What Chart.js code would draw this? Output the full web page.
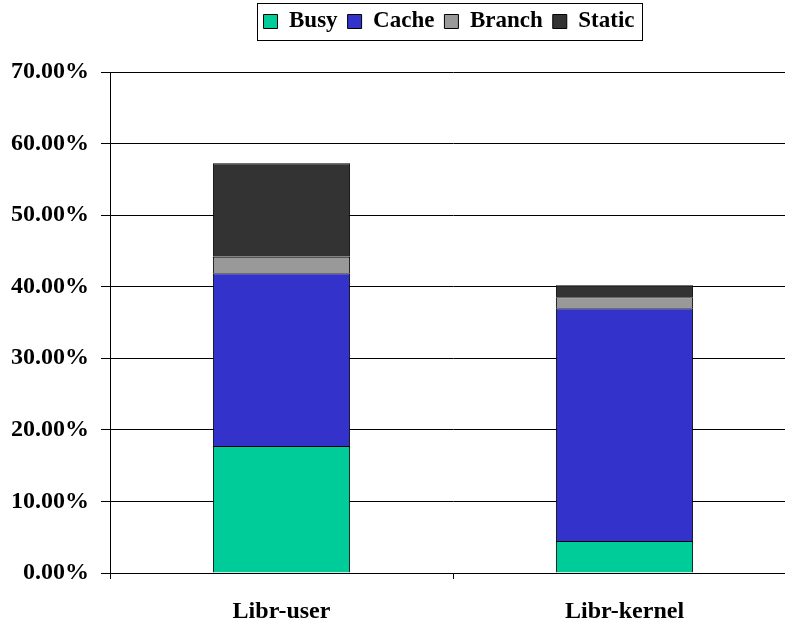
<!DOCTYPE html>
<html>
<head>
<meta charset="utf-8">
<script src="https://cdn.jsdelivr.net/npm/chart.js@4"></script>
<style>
  html, body { margin: 0; padding: 0; background: #fff; overflow: hidden; }
  #wrap { width: 796px; height: 624px; }
</style>
</head>
<body>
<div id="wrap"><canvas id="c"></canvas></div>
<script>
// ===== Data (percent) =====
const categories = ["Libr-user", "Libr-kernel"];
const busy   = [17.75, 4.47];
const cache  = [24.13, 32.51];
const branch = [2.31, 1.54];
const stat   = [13.05, 1.68];

const FONT = "'Liberation Serif', 'Times New Roman', serif";

// legend: extra gap below it, centred over the plot, with a box around it
const legendBox = {
  id: "legendBox",
  afterInit(chart) {
    const lg = chart.legend;
    if (!lg || lg._patched) return;
    const fit = lg.fit;
    lg.fit = function () { fit.call(this); this.height += 29; };
    lg._patched = true;
  },
  afterLayout(chart) {
    const lg = chart.legend;
    if (!lg) return;
    lg.left = chart.chartArea.left;
    lg.right = chart.chartArea.right - 8;
    lg.width = lg.right - lg.left;
  },
  afterDraw(chart) {
    const boxes = chart.legend?.legendHitBoxes;
    if (!boxes || !boxes.length) return;
    const first = boxes[0], last = boxes[boxes.length - 1];
    const ctx = chart.ctx;
    ctx.save();
    ctx.strokeStyle = "#000";
    ctx.lineWidth = 1;
    const x0 = first.left - 7, x1 = last.left + last.width + 7;
    const y0 = first.top - 7, y1 = first.top + first.height + 7;
    ctx.strokeRect(Math.round(x0) + 0.5, Math.round(y0) + 0.5, Math.round(x1 - x0), Math.round(y1 - y0));
    ctx.restore();
  }
};

const mk = (label, data, color) => ({
  label, data, backgroundColor: color, borderColor: "#000", borderWidth: 1,
  barPercentage: 1, categoryPercentage: 0.4
});

new Chart(document.getElementById("c"), {
  type: "bar",
  data: {
    labels: categories,
    datasets: [
      mk("Busy", busy, "#00CC99"),
      mk("Cache", cache, "#3333CC"),
      mk("Branch", branch, "#999999"),
      mk("Static", stat, "#333333")
    ]
  },
  options: {
    responsive: true,
    maintainAspectRatio: false,
    animation: false,
    layout: { padding: 0 },
    scales: {
      x: {
        stacked: true,
        offset: true,
        afterFit(s) { s.height = 51; },
        grid: { offset: true, drawOnChartArea: false, drawTicks: true, tickLength: 6, color: "#000" },
        border: { color: "#000", width: 1 },
        ticks: { color: "#000", font: { family: FONT, size: 24, weight: "bold" }, padding: 18 }
      },
      y: {
        stacked: true,
        min: 0, max: 70,
        afterFit(s) { s.width = 110; },
        grid: { color: "#000", lineWidth: 1, tickLength: 9 },
        border: { color: "#000", width: 1 },
        ticks: {
          stepSize: 10,
          color: "#000",
          padding: 12,
          font: { family: FONT, size: 24, weight: "bold" },
          callback: v => v.toFixed(2) + "%"
        }
      }
    },
    plugins: {
      legend: {
        position: "top",
        labels: {
          color: "#000",
          boxWidth: 14, boxHeight: 14,
          padding: 10,
          font: { family: FONT, size: 23, weight: "bold" }
        }
      },
      tooltip: { enabled: false }
    }
  },
  plugins: [legendBox]
});
</script>
</body>
</html>
